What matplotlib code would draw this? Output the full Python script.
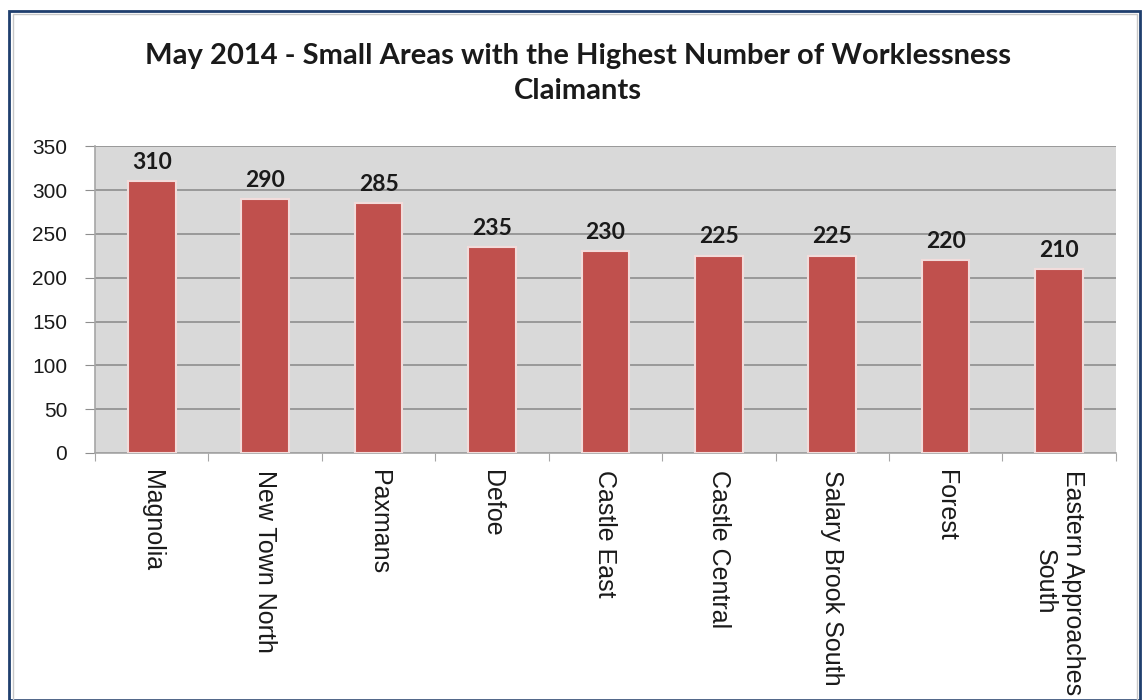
import matplotlib
matplotlib.use("Agg")
import matplotlib.pyplot as plt
from matplotlib.patches import Rectangle

categories = ["Magnolia", "New Town North", "Paxmans", "Defoe", "Castle East",
              "Castle Central", "Salary Brook South", "Forest",
              "Eastern Approaches\nSouth"]
values = [310, 290, 285, 235, 230, 225, 225, 220, 210]
yticks = [0, 50, 100, 150, 200, 250, 300, 350]
title = "May 2014 - Small Areas with the Highest Number of Worklessness\nClaimants"

fig = plt.figure(figsize=(11.47, 7.0), dpi=100)
fig.patch.set_facecolor("white")
# figure border
fig.patches.append(Rectangle((0.008, 0.0), 0.986, 0.985, transform=fig.transFigure,
                             fill=False, edgecolor="#1F3F6E", linewidth=2.0))
fig.patches.append(Rectangle((0.011, 0.0), 0.980, 0.980, transform=fig.transFigure,
                             fill=False, edgecolor="#C8C8C8", linewidth=1.0))

ax = fig.add_axes([0.0828, 0.353, 0.890, 0.438])
ax.set_facecolor("#D9D9D9")
x = list(range(len(categories)))
bars = ax.bar(x, values, width=0.42, color="#C0504D", edgecolor="#F2DCDB",
              linewidth=1.5, zorder=3)
for xi, v in zip(x, values):
    ax.annotate(str(v), (xi, v), xytext=(0, 6), textcoords="offset points",
                ha="center", va="bottom", fontsize=16.5, fontweight="bold",
                family="Lato", color="#1A1A1A", zorder=4)

ax.set_ylim(0, 350)
ax.set_xlim(-0.5, len(categories) - 0.5)
ax.set_yticks(yticks)
ax.set_yticklabels([str(t) for t in yticks], fontsize=15, family="Liberation Sans",
                   color="#1A1A1A")
ax.yaxis.grid(True, color="#8E8E8E", linewidth=1.2, zorder=0)
ax.set_axisbelow(True)

ax.set_xticks([i - 0.5 for i in range(len(categories) + 1)])
ax.set_xticklabels([])
ax.set_xticks(x, minor=True)
ax.set_xticklabels(categories, minor=True, rotation=-90, fontsize=18,
                   family="Liberation Sans", ha="center", va="top",
                   multialignment="center", color="#1A1A1A")
ax.tick_params(axis="x", which="minor", length=0, pad=12)
ax.tick_params(axis="x", which="major", length=6, color="#A6A6A6", direction="out")
ax.tick_params(axis="y", length=7, color="#8E8E8E", pad=13)

for s in ["top", "right"]:
    ax.spines[s].set_visible(False)
ax.spines["left"].set_color("#A6A6A6")
ax.spines["bottom"].set_color("#A6A6A6")
ax.spines["left"].set_linewidth(1.2)
ax.spines["bottom"].set_linewidth(1.2)

fig.text(0.504, 0.895, title, ha="center", va="center", fontsize=21,
         fontweight="bold", family="Lato", linespacing=1.45, color="#1A1A1A")

fig.savefig("out.png", dpi=100)
